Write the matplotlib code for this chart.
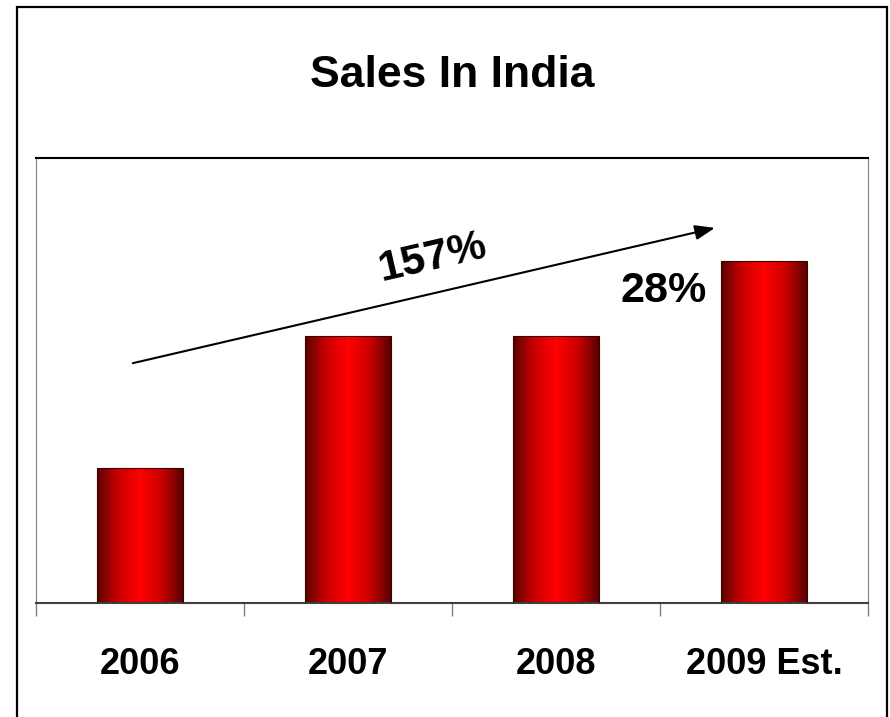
import numpy as np
import matplotlib
matplotlib.use("Agg")
import matplotlib.pyplot as plt
from matplotlib.colors import LinearSegmentedColormap
from matplotlib.patches import Rectangle

# datos (escala relativa, eje 0-100)
anios = ["2006", "2007", "2008", "2009 Est."]
ventas = [30.3, 60.0, 60.0, 76.9]
crecimiento_total = "157%"
crecimiento_ultimo = "28%"

plt.rcParams['font.family'] = ['Liberation Sans', 'DejaVu Sans']

fig = plt.figure(figsize=(8.9, 7.17), dpi=100)
ax = fig.add_axes([0.0404, 0.159, 0.9349, 0.6206])

# degradado horizontal: oscuro en los bordes, rojo vivo en el centro
cmap_barra = LinearSegmentedColormap.from_list(
    "barra", ["#5a0000", "#cc0000", "#ff0000", "#cc0000", "#5a0000"])
gradiente = np.linspace(0, 1, 256).reshape(1, -1)

x = np.arange(len(anios))
barras = ax.bar(x, ventas, width=0.41, color="none", edgecolor="#3a0000",
                linewidth=0.8, zorder=3)
for b in barras:
    x0, y0 = b.get_x(), b.get_y()
    im = ax.imshow(gradiente, cmap=cmap_barra, aspect="auto",
                   extent=[x0, x0 + b.get_width(), y0, y0 + b.get_height()],
                   zorder=2, interpolation="bicubic")
    im.set_clip_path(b)

ax.set_xlim(-0.5, len(anios) - 0.5)
ax.set_ylim(0, 100)
ax.set_yticks([])

ax.set_xticks(x)
ax.set_xticklabels(anios, fontsize=26, fontweight="bold")
ax.tick_params(axis="x", which="major", length=0, pad=32)
ax.set_xticks(np.arange(-0.5, len(anios)), minor=True)
ax.tick_params(axis="x", which="minor", length=9, width=1, color="#808080",
               direction="out")

ax.spines["top"].set_color("black")
ax.spines["top"].set_linewidth(1.5)
ax.spines["left"].set_color("#808080")
ax.spines["right"].set_color("#808080")
ax.spines["bottom"].set_color("#404040")
ax.spines["bottom"].set_linewidth(1.5)

# flecha de crecimiento
ax.annotate("", xy=(2.764, 84.3), xytext=(-0.034, 53.9),
            arrowprops=dict(arrowstyle="-|>,head_length=1.2,head_width=0.45",
                            color="black", lw=1.5, shrinkA=0, shrinkB=0))
ax.text(1.404, 77.5, crecimiento_total, fontsize=31, fontweight="bold",
        rotation=13, ha="center", va="center")
ax.text(2.519, 70.1, crecimiento_ultimo, fontsize=31, fontweight="bold",
        ha="center", va="center")

fig.text(0.508, 0.895, "Sales In India", fontsize=32, fontweight="bold",
         ha="center", va="center")

# marco exterior
borde = Rectangle((17 / 890, -0.01), 870 / 890, 1 - 7 / 717 + 0.01,
                  transform=fig.transFigure, fill=False, edgecolor="black",
                  linewidth=1.6)
fig.patches.append(borde)

fig.savefig("out.png", dpi=100)
